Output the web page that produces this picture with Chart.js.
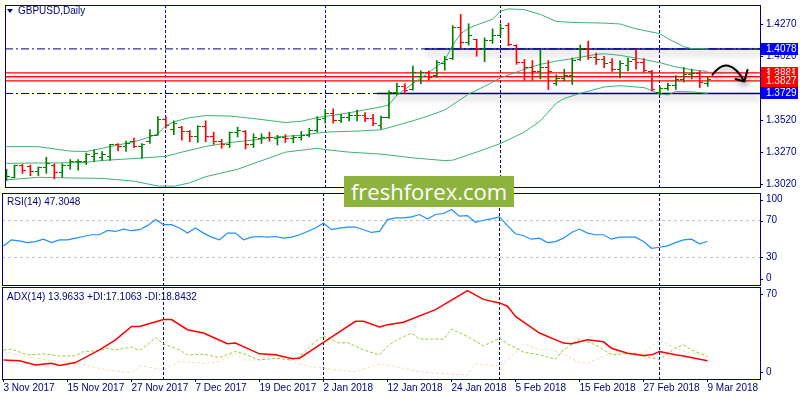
<!DOCTYPE html>
<html>
<head>
<meta charset="utf-8">
<script src="https://cdn.jsdelivr.net/npm/chart.js@4"></script>
<style>
  html, body { margin: 0; padding: 0; background: #fff; }
  #wrap { position: relative; width: 800px; height: 400px; overflow: hidden; font-family: "Liberation Sans", Arial, sans-serif; }
  canvas { position: absolute; left: 0; }
  .title { position: absolute; font-size: 10px; line-height: 12px; color: #000080; white-space: nowrap; }
  .tri { position: absolute; left: 7px; top: 9px; width: 0; height: 0; border-left: 3px solid transparent; border-right: 3px solid transparent; border-top: 4px solid #000080; }
  .mark { position: absolute; left: 344px; top: 176px; width: 170px; height: 31px; background: #8db33e; color: #fff; font-family: "Open Sans", sans-serif; font-size: 22px; line-height: 31px; text-align: center; }
</style>
</head>
<body>
<div id="wrap">
  <canvas id="main" width="800" height="192" style="top:0"></canvas>
  <canvas id="rsi" width="800" height="94" style="top:192px"></canvas>
  <canvas id="adx" width="800" height="114" style="top:286px"></canvas>
  <div class="tri"></div>
  <div class="title" style="left:18px;top:5px">GBPUSD,Daily</div>
  <div class="title" style="left:7px;top:196px">RSI(14) 47.3048</div>
  <div class="title" style="left:7px;top:291px">ADX(14) 13.9633 +DI:17.1063 -DI:18.8432</div>
  <div class="mark">freshforex.com</div>
</div>
<script>
// bar index 0 = 3 Nov 2017, one bar per trading day
const dateTicks = [0, 8, 16, 24, 32, 40, 48, 56, 64, 72, 80, 88];
const dateLabels = ['3 Nov 2017', '15 Nov 2017', '27 Nov 2017', '7 Dec 2017', '19 Dec 2017', '2 Jan 2018',
  '12 Jan 2018', '24 Jan 2018', '5 Feb 2018', '15 Feb 2018', '27 Feb 2018', '9 Mar 2018'];
const monthStarts = [20, 40, 62, 82];

const opens = [
  1.3061, 1.3073, 1.3165, 1.3157, 1.3119, 1.3149, 1.3169, 1.3111, 1.3169, 1.3194,
  1.3200, 1.3237, 1.3230, 1.3237, 1.3326, 1.3313, 1.3351, 1.3313, 1.3351, 1.3402,
  1.3528, 1.3447, 1.3465, 1.3432, 1.3389, 1.3472, 1.3394, 1.3351, 1.3331, 1.3422,
  1.3432, 1.3326, 1.3376, 1.3386, 1.3376, 1.3386, 1.3376, 1.3381, 1.3402, 1.3440,
  1.3530, 1.3575, 1.3520, 1.3540, 1.3555, 1.3560, 1.3530, 1.3480, 1.3540, 1.3735,
  1.3780, 1.3760, 1.3860, 1.3890, 1.3870, 1.3960, 1.4000, 1.4247, 1.4130, 1.4150,
  1.4070, 1.4140, 1.4184, 1.4260, 1.4105, 1.3975, 1.3935, 1.3900, 1.3930, 1.3810,
  1.3850, 1.3870, 1.3995, 1.4083, 1.4010, 1.3995, 1.3970, 1.3920, 1.3950, 1.3995,
  1.3970, 1.3905, 1.3740, 1.3765, 1.3790, 1.3840, 1.3880, 1.3885, 1.3810
];
const highs = [
  1.3136, 1.3169, 1.3174, 1.3169, 1.3154, 1.3230, 1.3179, 1.3179, 1.3212, 1.3212,
  1.3263, 1.3288, 1.3275, 1.3331, 1.3338, 1.3356, 1.3381, 1.3338, 1.3447, 1.3548,
  1.3548, 1.3515, 1.3472, 1.3439, 1.3477, 1.3515, 1.3427, 1.3371, 1.3427, 1.3465,
  1.3439, 1.3414, 1.3414, 1.3427, 1.3402, 1.3407, 1.3402, 1.3432, 1.3457, 1.3548,
  1.3604, 1.3609, 1.3566, 1.3579, 1.3599, 1.3579, 1.3566, 1.3553, 1.3750, 1.3811,
  1.3806, 1.3944, 1.3906, 1.3906, 1.3987, 1.4020, 1.4260, 1.4348, 1.4275, 1.4154,
  1.4164, 1.4235, 1.4273, 1.4280, 1.4110, 1.3995, 1.3987, 1.4071, 1.3987, 1.3876,
  1.3919, 1.4007, 1.4108, 1.4139, 1.4045, 1.4020, 1.4002, 1.3987, 1.4007, 1.4071,
  1.4002, 1.3911, 1.3780, 1.3811, 1.3869, 1.3932, 1.3919, 1.3906, 1.3861
];
const lows = [
  1.3048, 1.3068, 1.3104, 1.3086, 1.3086, 1.3104, 1.3061, 1.3073, 1.3136, 1.3129,
  1.3174, 1.3200, 1.3205, 1.3205, 1.3280, 1.3275, 1.3306, 1.3220, 1.3338, 1.3402,
  1.3457, 1.3407, 1.3364, 1.3351, 1.3346, 1.3351, 1.3331, 1.3300, 1.3306, 1.3389,
  1.3295, 1.3306, 1.3338, 1.3356, 1.3326, 1.3346, 1.3343, 1.3364, 1.3389, 1.3427,
  1.3497, 1.3497, 1.3502, 1.3515, 1.3515, 1.3508, 1.3477, 1.3452, 1.3533, 1.3717,
  1.3730, 1.3755, 1.3806, 1.3836, 1.3856, 1.3911, 1.3995, 1.4083, 1.4108, 1.4020,
  1.3977, 1.4121, 1.4184, 1.4103, 1.3957, 1.3831, 1.3831, 1.3843, 1.3760, 1.3793,
  1.3826, 1.3800, 1.3987, 1.3995, 1.3957, 1.3932, 1.3901, 1.3851, 1.3906, 1.3919,
  1.3894, 1.3750, 1.3717, 1.3755, 1.3760, 1.3818, 1.3843, 1.3775, 1.3785
];
const closes = [
  1.3078, 1.3165, 1.3124, 1.3119, 1.3149, 1.3180, 1.3111, 1.3169, 1.3194, 1.3200,
  1.3250, 1.3263, 1.3250, 1.3326, 1.3313, 1.3338, 1.3313, 1.3331, 1.3402, 1.3528,
  1.3477, 1.3497, 1.3432, 1.3389, 1.3472, 1.3394, 1.3351, 1.3331, 1.3422, 1.3439,
  1.3326, 1.3381, 1.3386, 1.3381, 1.3381, 1.3376, 1.3381, 1.3402, 1.3440, 1.3525,
  1.3575, 1.3520, 1.3540, 1.3555, 1.3560, 1.3530, 1.3495, 1.3540, 1.3735, 1.3780,
  1.3755, 1.3890, 1.3890, 1.3855, 1.3970, 1.3995, 1.4247, 1.4130, 1.4180, 1.4070,
  1.4140, 1.4184, 1.4240, 1.4110, 1.3975, 1.3930, 1.3900, 1.3930, 1.3900, 1.3850,
  1.3870, 1.3990, 1.4083, 1.4010, 1.3995, 1.3960, 1.3920, 1.3960, 1.3980, 1.3970,
  1.3910, 1.3760, 1.3770, 1.3790, 1.3840, 1.3880, 1.3885, 1.3815, 1.3840
];

// Bollinger bands, [bar, price]
const bbUpper = [[0, 1.3313], [4, 1.3313], [8, 1.3278], [10, 1.3275], [12, 1.3300], [14, 1.3326], [16, 1.3351],
  [18, 1.3389], [19, 1.3414], [20, 1.3477], [21, 1.3508], [23, 1.3540], [25, 1.3556], [28, 1.3553], [31, 1.3533],
  [35, 1.3502], [37, 1.3512], [39, 1.3540], [43, 1.3578], [47, 1.3624], [48, 1.3640], [49, 1.3717], [51, 1.3806],
  [53, 1.3894], [55, 1.3987], [56, 1.4108], [57, 1.4197], [58, 1.4240], [59, 1.4265], [61, 1.4310], [62, 1.4374],
  [63, 1.4391], [65, 1.4385], [67, 1.4348], [69, 1.4293], [71, 1.4285], [75, 1.4280], [77, 1.4273], [79, 1.4235],
  [82, 1.4197], [83, 1.4159], [85, 1.4095], [86, 1.4080], [88, 1.4078]];
const bbMiddle = [[0, 1.3182], [4, 1.3185], [8, 1.3187], [10, 1.3190], [12, 1.3205], [16, 1.3220], [20, 1.3237],
  [22, 1.3270], [25, 1.3315], [28, 1.3345], [31, 1.3365], [34, 1.3390], [37, 1.3402], [40, 1.3427], [44, 1.3435],
  [47, 1.3445], [49, 1.3480], [51, 1.3515], [53, 1.3555], [55, 1.3600], [58, 1.3725], [60, 1.3785], [62, 1.3851],
  [65, 1.3919], [67, 1.3957], [69, 1.3982], [71, 1.4002], [74, 1.4035], [75, 1.4040], [77, 1.4028], [80, 1.3995],
  [82, 1.3970], [84, 1.3937], [86, 1.3915], [88, 1.3901]];
const bbLower = [[0, 1.3053], [4, 1.3073], [8, 1.3068], [12, 1.3065], [16, 1.3043], [19, 1.3005], [21, 1.3003],
  [23, 1.3030], [25, 1.3078], [29, 1.3136], [33, 1.3225], [35, 1.3270], [39, 1.3300], [40, 1.3290], [43, 1.3270],
  [47, 1.3255], [51, 1.3225], [55, 1.3204], [56, 1.3207], [59, 1.3270], [62, 1.3338], [65, 1.3427], [67, 1.3515],
  [69, 1.3654], [70, 1.3690], [72, 1.3730], [75, 1.3780], [77, 1.3790], [80, 1.3775], [81, 1.3750], [82, 1.3727],
  [83, 1.3717], [84, 1.3745], [86, 1.3742], [88, 1.3730]];

const blueLevels = [1.4078, 1.3729];
const blueSolidFrom = [52.5, 46.5];
const redLevels = [1.3891, 1.3861, 1.3827];
const askLevel = 1.3851;
const priceTicks = [1.3020, 1.3270, 1.3520, 1.3770, 1.4020, 1.4270];

const rsi = [
  42.5, 49.1, 48.0, 46.1, 47.2, 49.8, 46.1, 49.1, 49.1, 50.9,
  52.7, 54.6, 54.6, 59.3, 58.2, 60.8, 59.0, 60.1, 64.5, 71.1,
  65.6, 65.6, 61.9, 56.4, 61.9, 56.4, 52.0, 49.1, 56.4, 56.4,
  49.1, 52.0, 52.7, 52.0, 52.7, 50.9, 52.0, 54.6, 58.2, 61.9,
  67.4, 60.1, 61.9, 63.0, 63.0, 60.1, 57.1, 58.2, 71.1, 72.9,
  72.9, 74.0, 76.6, 71.8, 76.6, 77.7, 82.1, 74.8, 75.5, 68.2,
  70.4, 71.8, 74.0, 64.5, 55.7, 53.5, 49.8, 50.9, 46.1, 47.2,
  50.9, 57.1, 60.8, 56.4, 54.6, 54.6, 49.8, 52.0, 52.0, 52.0,
  47.2, 39.9, 41.0, 42.5, 46.1, 49.1, 49.8, 44.7, 47.3
];
const rsiLevels = [70, 30];
const rsiTicks = [100, 70, 30, 0];

const adx = [[0, 14.6], [2, 13.9], [4, 10.8], [6, 12.1], [7, 10.3], [9, 12.6], [12, 22.3], [14, 30.0], [16, 40.3],
  [17, 40.3], [20, 45.5], [21, 45.5], [23, 37.8], [25, 35.2], [28, 27.0], [29, 27.5], [32, 19.3], [34, 18.5],
  [36, 15.7], [37, 15.9], [40, 28.0], [44, 44.2], [45, 44.2], [47, 39.8], [48, 41.6], [50, 43.5], [54, 53.2],
  [58, 67.8], [60, 61.0], [62, 58.3], [63, 55.8], [64, 48.0], [67, 35.2], [70, 27.5], [71, 27.0], [73, 30.0],
  [75, 28.5], [76, 23.6], [78, 19.8], [80, 18.0], [81, 18.5], [82, 21.1], [84, 18.5], [85, 17.7], [88, 14.0]];
const plusDi = [[0, 22.3], [1, 22.9], [3, 18.5], [5, 19.3], [7, 17.7], [9, 17.7], [10, 21.1], [12, 21.8], [13, 23.6],
  [14, 22.3], [16, 24.4], [17, 21.8], [18, 26.2], [19, 31.8], [20, 26.9], [22, 22.3], [23, 18.5], [25, 19.0],
  [27, 16.4], [29, 21.1], [30, 19.3], [32, 14.6], [34, 15.9], [36, 14.6], [37, 17.2], [39, 28.8], [40, 33.1],
  [42, 27.5], [43, 28.0], [45, 22.3], [47, 18.5], [48, 25.0], [49, 29.5], [51, 35.2], [52, 30.6], [55, 30.6],
  [56, 38.3], [58, 32.6], [60, 25.4], [62, 31.3], [63, 27.0], [65, 20.6], [67, 18.5], [69, 15.1], [70, 22.3],
  [72, 30.6], [74, 26.2], [76, 18.5], [79, 19.8], [80, 17.2], [82, 15.1], [84, 23.6], [85, 26.2], [86, 22.3],
  [88, 17.1]];
const minusDi = [[0, 21.1], [2, 18.5], [4, 15.9], [7, 13.4], [9, 12.1], [11, 9.5], [13, 6.9], [16, 4.9], [17, 10.0],
  [20, 7.4], [22, 13.4], [25, 12.1], [27, 13.4], [29, 19.8], [30, 14.6], [32, 14.6], [34, 19.8], [36, 13.4],
  [38, 10.0], [40, 8.2], [44, 5.6], [47, 11.6], [49, 9.5], [50, 8.2], [52, 5.6], [54, 4.4], [58, 3.1], [59, 11.6],
  [62, 10.0], [64, 19.8], [65, 27.0], [67, 22.3], [68, 22.9], [70, 19.3], [72, 12.6], [73, 12.1], [76, 19.8],
  [80, 19.8], [82, 30.0], [84, 23.6], [86, 19.3], [88, 18.8]];
const adxTicks = [70, 0];

const NAVY = '#000080';
const UP = '#008000';
const DOWN = '#ff0000';
const FONT = '"Liberation Sans", Arial, sans-serif';
// 8px per bar; bar centres land on half pixels so 1px bars stay crisp
const xMin = -0.1875, xMax = 94.5625;

const pts = arr => arr.map(([x, y]) => ({ x, y }));
const hline = v => [{ x: xMin, y: v }, { x: xMax, y: v }];
const isUp = i => closes[i] >= opens[i];

function tickImage(color, left) {
  const c = document.createElement('canvas');
  c.width = 7; c.height = 1;
  const g = c.getContext('2d');
  g.fillStyle = color;
  g.fillRect(left ? 0 : 4, 0, 3, 1);
  return c;
}
const openUp = tickImage(UP, true), openDown = tickImage(DOWN, true);
const closeUp = tickImage(UP, false), closeDown = tickImage(DOWN, false);

// frame, period separators and right-hand scale labels
function panel(ticks, digits, inset) {
  return {
    id: 'panel',
    beforeDatasetsDraw(chart) {
      const { ctx, chartArea: a, scales: { x } } = chart;
      ctx.save();
      ctx.strokeStyle = NAVY;
      ctx.lineWidth = 1;
      ctx.setLineDash([3, 2]);
      monthStarts.forEach(i => {
        const px = Math.floor(x.getPixelForValue(i)) + 0.5;
        ctx.beginPath();
        ctx.moveTo(px, a.top);
        ctx.lineTo(px, a.bottom);
        ctx.stroke();
      });
      ctx.restore();
    },
    afterDraw(chart) {
      const { ctx, chartArea: a, scales: { y } } = chart;
      ctx.save();
      ctx.strokeStyle = NAVY;
      ctx.lineWidth = 1;
      ctx.strokeRect(a.left + 0.5, a.top + 0.5, a.right - a.left, a.bottom - a.top);
      ctx.fillStyle = NAVY;
      ctx.font = '10px ' + FONT;
      ctx.textBaseline = 'middle';
      ticks.forEach(v => {
        let py = y.getPixelForValue(v);
        py = Math.min(Math.max(py, a.top + inset), a.bottom - inset);
        const ly = Math.round(py) + 0.5;
        ctx.beginPath();
        ctx.moveTo(a.right, ly);
        ctx.lineTo(a.right + 3, ly);
        ctx.stroke();
        ctx.fillText(v.toFixed(digits), a.right + 6, py);
      });
      ctx.restore();
    }
  };
}

const shadowLines = {
  id: 'shadowLines',
  beforeDatasetDraw(chart, args) {
    if (chart.data.datasets[args.index].shadow) {
      const ctx = chart.ctx;
      ctx.save();
      ctx.shadowColor = 'rgba(0,0,0,0.45)';
      ctx.shadowBlur = 7;
      ctx.shadowOffsetY = 4;
    }
  },
  afterDatasetDraw(chart, args) {
    if (chart.data.datasets[args.index].shadow) chart.ctx.restore();
  }
};

const priceTags = {
  id: 'priceTags',
  afterDraw(chart) {
    const { ctx, chartArea: a, scales: { y } } = chart;
    ctx.save();
    ctx.font = '10px ' + FONT;
    ctx.textBaseline = 'middle';
    const tag = (v, color) => {
      const py = y.getPixelForValue(v);
      ctx.fillStyle = color;
      ctx.fillRect(a.right + 1, Math.round(py) - 6, 37, 12);
      ctx.fillStyle = '#fff';
      ctx.fillText(v.toFixed(4), a.right + 6, py);
    };
    redLevels.forEach(v => tag(v, '#ff0000'));
    blueLevels.forEach(v => tag(v, '#0000ff'));
    ctx.restore();
  }
};

const arrow = {
  id: 'arrow',
  afterDatasetsDraw(chart) {
    const { ctx, scales: { x, y } } = chart;
    const p = (i, v) => [x.getPixelForValue(i), y.getPixelForValue(v)];
    const [sx, sy] = p(88.6, 1.3876), [cx, cy] = p(90.6, 1.4043), [ex, ey] = p(92.6, 1.3823);
    const [ax, ay] = p(91.5, 1.3842), [bx, by] = p(93.0, 1.3914);
    ctx.save();
    ctx.strokeStyle = '#000';
    ctx.lineWidth = 2;
    ctx.lineCap = 'round';
    ctx.lineJoin = 'round';
    ctx.shadowColor = 'rgba(0,0,0,0.5)';
    ctx.shadowBlur = 6;
    ctx.shadowOffsetX = 2;
    ctx.shadowOffsetY = 3;
    ctx.beginPath();
    ctx.moveTo(sx, sy);
    ctx.quadraticCurveTo(cx, cy, ex, ey);
    ctx.moveTo(ax, ay);
    ctx.lineTo(ex, ey);
    ctx.lineTo(bx, by);
    ctx.stroke();
    ctx.restore();
  }
};

function options(yMin, yMax, padding, xAxis) {
  return {
    responsive: false,
    animation: false,
    events: [],
    layout: { padding },
    plugins: { legend: { display: false }, tooltip: { enabled: false } },
    elements: { line: { tension: 0 } },
    scales: {
      x: Object.assign({
        type: 'linear', min: xMin, max: xMax, offset: false, grid: { offset: false }, display: false
      }, xAxis || {}),
      y: { min: yMin, max: yMax, display: false, beginAtZero: false }
    }
  };
}

const lineSet = (data, color, extra) => Object.assign({
  type: 'line', data, borderColor: color, borderWidth: 1, pointRadius: 0, fill: false
}, extra || {});

// price panel
const mainSets = [
  lineSet(opens.map((v, i) => ({ x: i, y: v })), UP, {
    showLine: false, pointRadius: 3,
    pointStyle: c => isUp(c.dataIndex) ? openUp : openDown
  }),
  lineSet(closes.map((v, i) => ({ x: i, y: v })), UP, {
    showLine: false, pointRadius: 3,
    pointStyle: c => isUp(c.dataIndex) ? closeUp : closeDown
  }),
  {
    type: 'bar',
    data: highs.map((h, i) => ({ x: i, y: [lows[i], h] })),
    backgroundColor: c => isUp(c.dataIndex) ? UP : DOWN,
    barThickness: 1,
    borderWidth: 0,
    grouped: false
  },
  lineSet(pts(bbUpper), '#3cb371'),
  lineSet(pts(bbMiddle), '#3cb371'),
  lineSet(pts(bbLower), '#3cb371')
];
blueLevels.forEach((v, k) => {
  mainSets.push(lineSet([{ x: blueSolidFrom[k], y: v }, { x: xMax, y: v }], NAVY, { borderWidth: 1.5, shadow: true }));
  mainSets.push(lineSet(hline(v), NAVY, { borderDash: [8, 3, 2, 3] }));
});
redLevels.forEach(v => mainSets.push(lineSet(hline(v), '#ff0000', { borderWidth: 1.2 })));
mainSets.push(lineSet(hline(askLevel), '#ffb4b4'));

new Chart(document.getElementById('main'), {
  type: 'line',
  data: { datasets: mainSets },
  options: options(1.29973, 1.44215, { left: 2, right: 40, top: 2, bottom: 2 }),
  plugins: [shadowLines, panel(priceTicks, 4, 0), priceTags, arrow]
});

// RSI panel
const rsiSets = [lineSet(rsi.map((v, i) => ({ x: i, y: v })), '#1e90ff', { borderWidth: 1.2 })];
rsiLevels.forEach(v => rsiSets.push(lineSet(hline(v), '#c0c0c0', { borderDash: [3, 3] })));

new Chart(document.getElementById('rsi'), {
  type: 'line',
  data: { datasets: rsiSets },
  options: options(0, 100, { left: 2, right: 40, top: 1, bottom: 1 }),
  plugins: [panel(rsiTicks, 0, 6.5)]
});

// ADX panel with the date axis
new Chart(document.getElementById('adx'), {
  type: 'line',
  data: {
    datasets: [
      lineSet(pts(adx), '#ff0000', { borderWidth: 1.5 }),
      lineSet(pts(plusDi), '#9acd32', { borderDash: [3, 2] }),
      lineSet(pts(minusDi), '#f5deb3', { borderDash: [3, 2] })
    ]
  },
  options: options(0, 70.5, { left: 2, right: 40, top: 1, bottom: 0 }, {
    display: true,
    afterBuildTicks: s => { s.ticks = dateTicks.map(v => ({ value: v })); },
    afterFit: s => { s.height = 21; },
    grid: { drawOnChartArea: false, color: NAVY, tickLength: 3 },
    border: { display: false },
    ticks: {
      align: 'start', maxRotation: 0, minRotation: 0, autoSkip: false, padding: 0,
      color: NAVY, font: { family: FONT, size: 10 },
      callback: (v, i) => dateLabels[i]
    }
  }),
  plugins: [panel(adxTicks, 0, 7)]
});
</script>
</body>
</html>
